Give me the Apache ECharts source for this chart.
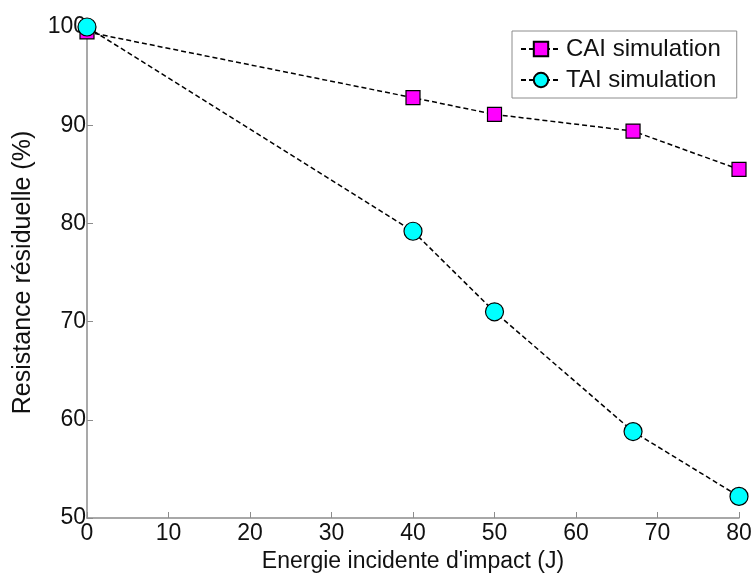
<!DOCTYPE html>
<html><head><meta charset="utf-8">
<script src="https://cdn.jsdelivr.net/npm/echarts@6/dist/echarts.min.js"></script>
<style>html,body{margin:0;padding:0;background:#fff}#c{width:753px;height:574px}</style>
</head><body><div id="c"></div>
<script>
const energies = [0, 40, 50, 67, 80];
const caiValues = [99.5, 92.8, 91.1, 89.4, 85.5];
const taiValues = [100, 79.2, 71.0, 58.8, 52.2];
const xTicks = [0, 10, 20, 30, 40, 50, 60, 70, 80];
const yTicks = [50, 60, 70, 80, 90, 100];
const seriesNames = ['CAI simulation', 'TAI simulation'];

const chart = echarts.init(document.getElementById('c'), null, {renderer: 'canvas'});
const font = 'Liberation Sans, Arial, sans-serif';
const axisCommon = {
  axisLine: {show: true, lineStyle: {color: '#8c8c8c', width: 1.5}},
  axisTick: {show: true, inside: true, length: 6, lineStyle: {color: '#8c8c8c', width: 1}},
  splitLine: {show: false},
  axisLabel: {color: '#111', fontSize: 23, fontFamily: font},
  nameTextStyle: {color: '#111', fontSize: 23, fontFamily: font}
};
chart.setOption({
  animation: false,
  backgroundColor: '#fff',
  grid: {left: 87, right: 14, top: 27, bottom: 56, containLabel: false, outerBoundsMode: 'none'},
  xAxis: Object.assign({}, axisCommon, {
    type: 'value', min: xTicks[0], max: xTicks[xTicks.length-1], interval: 10,
    name: 'Energie incidente d\'impact (J)', nameLocation: 'middle', nameGap: 30,
    axisLabel: Object.assign({}, axisCommon.axisLabel, {margin: 4})
  }),
  yAxis: Object.assign({}, axisCommon, {
    type: 'value', min: yTicks[0], max: yTicks[yTicks.length-1], interval: 10,
    name: 'Resistance résiduelle (%)', nameLocation: 'middle', nameGap: 51,
    nameTextStyle: Object.assign({}, axisCommon.nameTextStyle, {fontSize: 25}),
    axisLabel: Object.assign({}, axisCommon.axisLabel, {margin: 1})
  }),
  legend: {
    data: seriesNames, orient: 'vertical', left: 512, top: 31,
    borderColor: '#8c8c8c', borderWidth: 1, backgroundColor: '#fff',
    padding: [6, 16, 6, 8], itemGap: 7, itemWidth: 40, itemHeight: 18,
    textStyle: {color: '#111', fontSize: 24, fontFamily: font}
  },
  series: [
    {name: seriesNames[0], type: 'line', data: energies.map((e, i) => [e, caiValues[i]]),
     symbol: 'rect', symbolSize: 14,
     lineStyle: {color: '#000', width: 1.5, type: [5, 3]},
     itemStyle: {color: '#ff00ff', borderColor: '#000', borderWidth: 1.2}, z: 2},
    {name: seriesNames[1], type: 'line', data: energies.map((e, i) => [e, taiValues[i]]),
     symbol: 'circle', symbolSize: 18,
     lineStyle: {color: '#000', width: 1.5, type: [5, 3]},
     itemStyle: {color: '#00ffff', borderColor: '#000', borderWidth: 1.2}, z: 3}
  ]
});
</script></body></html>
